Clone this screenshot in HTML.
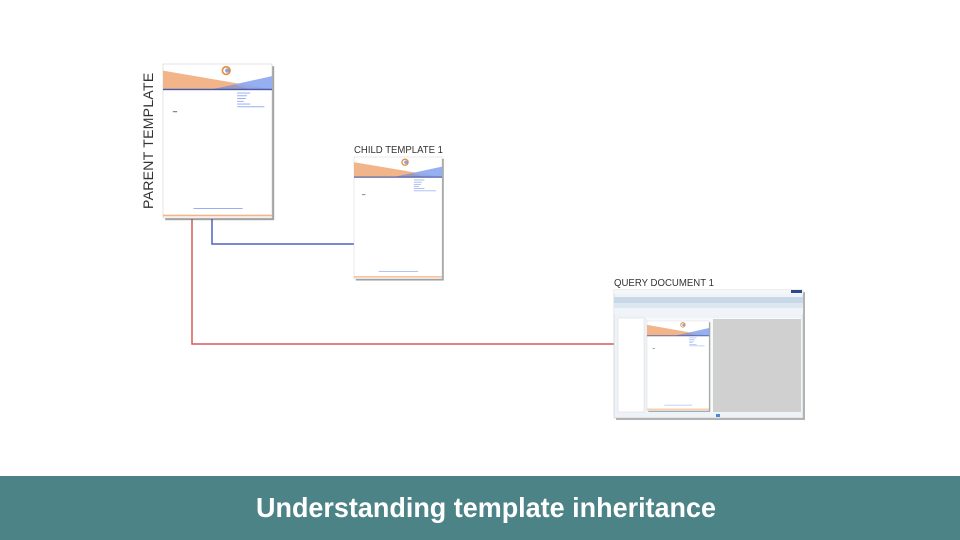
<!DOCTYPE html>
<html><head><meta charset="utf-8"><style>
html,body{margin:0;padding:0;width:960px;height:540px;overflow:hidden;background:#fff;font-family:"Liberation Sans",sans-serif}
</style></head><body>
<svg width="960" height="540" viewBox="0 0 960 540" xmlns="http://www.w3.org/2000/svg" style="position:absolute;left:0;top:0">
<defs>
<g id="doc">
<rect x="2" y="2" width="100" height="140" fill="#555" opacity="0.55"/>
<rect x="0" y="0" width="100" height="140" fill="#fff" stroke="#ccc" stroke-width="0.5"/>
<polygon points="0,6 0,23 100,23" fill="#f2b58a"/>
<polygon points="100,11 100,23 45,23" fill="#8aa6ee" opacity="0.9"/>
<polygon points="45,23 65,19 80,23" fill="#a88" opacity="0.5"/>
<rect x="0" y="22.5" width="100" height="1.3" fill="#4a5aa8"/>
<circle cx="58" cy="6" r="3.5" fill="none" stroke="#e59040" stroke-width="1.5"/>
<circle cx="59" cy="6" r="2" fill="#5c7ad0" opacity="0.7"/>
<rect x="68" y="26" width="12" height="0.8" fill="#8aa6ee"/>
<rect x="68" y="28.5" width="9" height="0.8" fill="#8aa6ee"/>
<rect x="68" y="31" width="8" height="0.8" fill="#8aa6ee"/>
<rect x="68" y="33.5" width="6" height="0.8" fill="#8aa6ee"/>
<rect x="68" y="36" width="12" height="0.8" fill="#8aa6ee"/>
<rect x="68" y="38.5" width="25" height="0.8" fill="#8aa6ee"/>
<rect x="9" y="43" width="4" height="0.8" fill="#555"/>
<rect x="28" y="131" width="45" height="0.8" fill="#8aa6ee"/>
<rect x="0" y="137" width="100" height="1.5" fill="#f2b58a"/>
</g>
</defs>
<polyline points="212,219 212,244 354,244" fill="none" stroke="#5060c0" stroke-width="1.5"/>
<polyline points="192,219 192,344 614,344" fill="none" stroke="#d85a5a" stroke-width="1.5"/>
<use href="#doc" transform="translate(163,64) scale(1.09,1.1)"/>
<text transform="translate(153,209) rotate(-90)" font-size="14" fill="#333" letter-spacing="0.3">PARENT TEMPLATE</text>
<use href="#doc" transform="translate(354,157) scale(0.88,0.87)"/>
<text x="354" y="153" font-size="10" fill="#333" textLength="89" lengthAdjust="spacingAndGlyphs">CHILD TEMPLATE 1</text>
<text x="614" y="286" font-size="10" fill="#333" textLength="100" lengthAdjust="spacingAndGlyphs">QUERY DOCUMENT 1</text>
<rect x="616" y="292" width="189" height="128" fill="#666" opacity="0.5"/>
<rect x="614" y="290" width="189" height="128" fill="#eef3f8" stroke="#bbb" stroke-width="0.5"/>
<rect x="614" y="290" width="189" height="4" fill="#f4f6f8"/>
<rect x="791" y="290" width="11" height="3" fill="#2a4a8a"/>
<rect x="614" y="297" width="189" height="6" fill="#c9d8e6"/>
<rect x="614" y="303" width="189" height="5" fill="#dde7f0"/>
<rect x="614" y="308" width="189" height="6" fill="#f0f4f8"/>
<rect x="618" y="318" width="26" height="94" fill="#fff" stroke="#ccd" stroke-width="0.4"/>
<rect x="647" y="318" width="154" height="94" fill="#f7f9fb"/>
<rect x="713" y="319" width="88" height="93" fill="#d0d0d0"/>
<use href="#doc" transform="translate(647,321) scale(0.62,0.64)"/>
<rect x="716" y="414" width="4" height="3" fill="#4a8ad0"/>
<rect x="0" y="476" width="960" height="64" fill="#4b8386"/>
<text x="486" y="517" font-size="28" font-weight="bold" fill="#fff" text-anchor="middle" textLength="460" lengthAdjust="spacingAndGlyphs">Understanding template inheritance</text>
</svg>
</body></html>
